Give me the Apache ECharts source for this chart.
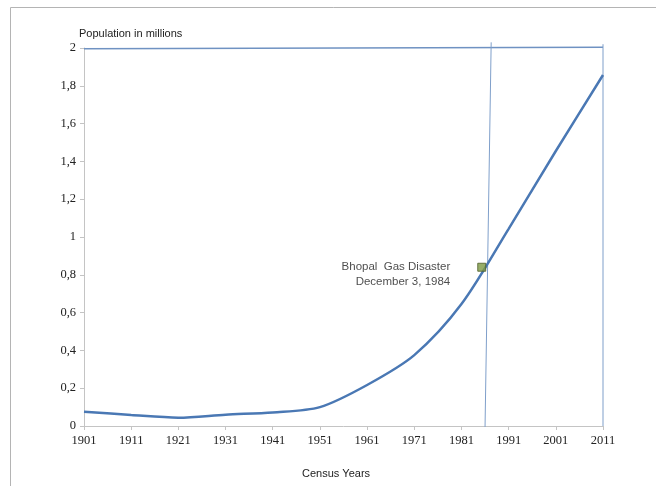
<!DOCTYPE html>
<html>
<head>
<meta charset="utf-8">
<script src="https://cdn.jsdelivr.net/npm/echarts@6/dist/echarts.min.js"></script>
<style>
  html, body { margin: 0; padding: 0; background: #fff; }
  #chart { width: 656px; height: 486px; }
</style>
</head>
<body>
<div id="chart"></div>
<script>
// Census years and Bhopal population (millions)
const BASE_YEAR = 1901;
const censusYears = [1901, 1911, 1921, 1931, 1941, 1951, 1961, 1971, 1981, 1991, 2001, 2011];
const population = [0.076, 0.058, 0.044, 0.060, 0.072, 0.100, 0.217, 0.375, 0.645, 1.043, 1.455, 1.857];

// Gas disaster marker on the curve
const disasterPoint = [1985.3, 0.84];
const disasterLabel = ['Bhopal  Gas Disaster', 'December 3, 1984'];

// Hand-drawn reference lines (year, millions)
const disasterLine = [[1986.0, -0.005], [1987.3, 2.03]];
const endLine = [[2011, 0], [2011, 2.02]];
const topLine = [[1901, 1.996], [2011, 2.004]];

const yTicks = [0, 0.2, 0.4, 0.6, 0.8, 1, 1.2, 1.4, 1.6, 1.8, 2];

const toXY = (pts) => pts.map(p => [p[0] - BASE_YEAR, p[1]]);

const chart = echarts.init(document.getElementById('chart'), null, { renderer: 'canvas' });

const refLineStyle = { color: '#7f9fca', width: 1 };

chart.setOption({
  animation: false,
  grid: { left: 84, right: 53, top: 48, bottom: 60, containLabel: false },
  graphic: [
    { type: 'rect', shape: { x: 10.5, y: 7.5, width: 700, height: 600 },
      style: { fill: 'none', stroke: '#b4b4b4', lineWidth: 1 }, silent: true }
  ],
  title: [
    { text: 'Population in millions', left: 74, top: 23,
      textStyle: { fontFamily: 'Liberation Sans', fontSize: 11, fontWeight: 'normal', color: '#222' } },
    { text: 'Census Years', left: 331, top: 463, textAlign: 'center',
      textStyle: { fontFamily: 'Liberation Sans', fontSize: 11, fontWeight: 'normal', color: '#222' } }
  ],
  xAxis: {
    type: 'value',
    min: 0,
    max: censusYears[censusYears.length - 1] - BASE_YEAR,
    interval: 10,
    axisLine: { show: true, lineStyle: { color: '#c4c4c4', width: 1 } },
    axisTick: { show: true, length: 4, lineStyle: { color: '#c4c4c4' } },
    splitLine: { show: false },
    axisLabel: {
      margin: 8,
      fontFamily: 'Liberation Serif', fontSize: 12.5, color: '#222',
      formatter: v => String(BASE_YEAR + v)
    }
  },
  yAxis: {
    type: 'value',
    min: yTicks[0],
    max: yTicks[yTicks.length - 1],
    interval: 0.2,
    axisLine: { show: true, lineStyle: { color: '#c4c4c4', width: 1 } },
    axisTick: { show: true, length: 4, lineStyle: { color: '#c4c4c4' } },
    splitLine: { show: false },
    axisLabel: {
      margin: 8,
      fontFamily: 'Liberation Serif', fontSize: 12.5, color: '#222',
      formatter: v => String(Math.round(v * 10) / 10).replace('.', ',')
    }
  },
  series: [
    {
      type: 'line', data: toXY(topLine), symbol: 'none', clip: false, silent: true,
      lineStyle: { color: '#6f92c2', width: 1.5 }, z: 2
    },
    {
      type: 'line', data: toXY(disasterLine), symbol: 'none', clip: false, silent: true,
      lineStyle: refLineStyle, z: 2
    },
    {
      type: 'line', data: toXY(endLine), symbol: 'none', clip: false, silent: true,
      lineStyle: refLineStyle, z: 2
    },
    {
      type: 'line',
      data: censusYears.map((y, i) => [y - BASE_YEAR, population[i]]),
      smooth: 0.3,
      symbol: 'none',
      lineStyle: { color: '#4a78b4', width: 2.5 },
      z: 3
    },
    {
      type: 'scatter',
      data: [[disasterPoint[0] - BASE_YEAR, disasterPoint[1]]],
      symbol: 'rect',
      symbolSize: 8,
      itemStyle: { color: '#7d9842', borderColor: '#4d5c28', borderWidth: 1 },
      label: {
        show: true,
        position: 'left',
        distance: 27,
        align: 'right',
        formatter: disasterLabel.join('\n'),
        fontFamily: 'Liberation Sans', fontSize: 11.5, color: '#222', lineHeight: 15,
        offset: [0, 7]
      },
      z: 4
    }
  ]
});
</script>
</body>
</html>
